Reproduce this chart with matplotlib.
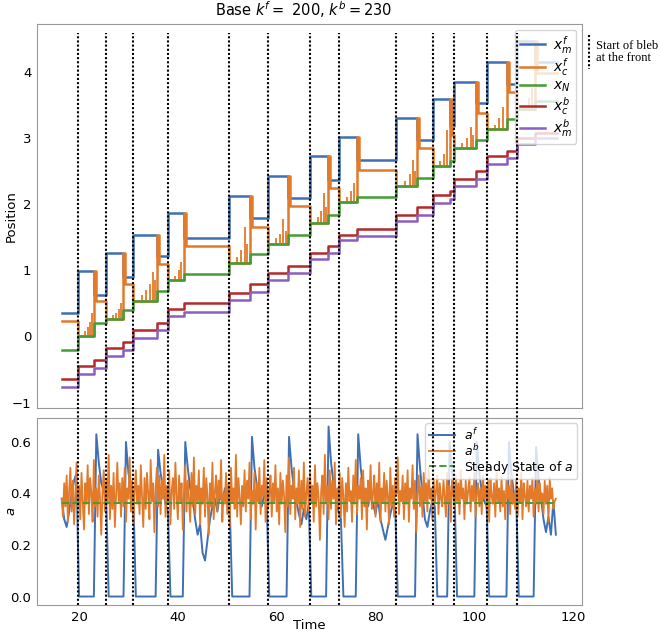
import numpy as np
import matplotlib.pyplot as plt
from matplotlib.lines import Line2D

# bleb timing: start = dotted line, end = retraction of the front
bleb_start = [19.7, 25.4, 30.9, 38.0, 50.3, 58.2, 66.8, 72.6, 84.1, 91.7, 95.9, 102.5, 108.6]
bleb_end = [23.1, 28.9, 35.7, 41.2, 54.6, 62.3, 70.3, 76.3, 88.4, 95.0, 100.3, 106.6, 112.3]
t_first, t_last = 16.5, 116.8

# positions: level before first bleb, level during each bleb, level after each bleb
xmf_0 = 0.36
xmf_bleb = [0.99, 1.26, 1.54, 1.86, 2.12, 2.42, 2.72, 3.02, 3.30, 3.59, 3.85, 4.14, 4.46]
xmf_rest = [0.63, 0.90, 1.21, 1.49, 1.79, 2.09, 2.37, 2.66, 2.97, 3.18, 3.53, 3.82, 4.15]

xcf_0 = 0.23
xcf_rest = [0.53, 0.79, 1.09, 1.36, 1.66, 1.97, 2.24, 2.52, 2.85, 3.05, 3.38, 3.70, 3.98]

xN_0 = -0.20
xN_bleb = [0.00, 0.27, 0.54, 0.85, 1.11, 1.40, 1.72, 2.03, 2.27, 2.57, 2.85, 3.13, 3.43]
xN_rest = [0.20, 0.40, 0.68, 0.94, 1.24, 1.54, 1.84, 2.10, 2.40, 2.65, 2.97, 3.28, 3.55]

xcb_0 = -0.64
xcb_bleb = [-0.45, -0.17, 0.10, 0.41, 0.65, 0.96, 1.26, 1.54, 1.84, 2.14, 2.38, 2.72, 3.00]
xcb_rest = [-0.36, -0.09, 0.21, 0.51, 0.79, 1.07, 1.36, 1.63, 1.96, 2.19, 2.50, 2.80, 3.08]

xmb_0 = -0.76
xmb_bleb = [-0.57, -0.29, -0.02, 0.31, 0.55, 0.86, 1.17, 1.46, 1.74, 2.02, 2.27, 2.60, 2.90]
xmb_rest = [-0.47, -0.20, 0.10, 0.37, 0.67, 0.96, 1.26, 1.52, 1.84, 2.08, 2.38, 2.70, 3.00]

# spikes of x_c^f while the front is blebbing (time, top)
spike_t = [21.3, 21.9, 22.3, 22.7, 26.8, 27.5, 28.0, 28.4, 32.8, 33.6, 34.3, 34.9, 35.3,
           39.5, 40.2, 40.7, 52.0, 52.8, 53.5, 54.0, 59.8, 60.6, 61.3, 61.8,
           68.3, 69.0, 69.6, 70.0, 74.2, 75.0, 75.7, 86.0, 86.9, 87.6, 88.0,
           93.0, 93.8, 94.4, 97.6, 98.5, 99.3, 99.8, 104.2, 105.0, 105.8,
           110.2, 111.0, 111.7]
spike_top = [0.08, 0.14, 0.22, 0.36, 0.33, 0.36, 0.42, 0.50, 0.62, 0.70, 0.80, 0.97, 0.85,
             0.92, 1.00, 1.12, 1.20, 1.30, 1.65, 1.40, 1.48, 1.55, 1.77, 1.60,
             1.80, 1.90, 2.17, 1.95, 2.10, 2.20, 2.32, 2.35, 2.45, 2.67, 2.50,
             2.65, 2.75, 3.12, 2.92, 3.00, 3.17, 3.05, 3.20, 3.30, 3.46,
             3.50, 3.60, 3.75]

# a^f read every 0.5 time units from t = 16.5
a_f = [0.38, 0.30, 0.27, 0.33, 0.40, 0.45, 0.48,
       0, 0, 0, 0, 0, 0, 0,
       0.63, 0.52, 0.44, 0.41, 0.38,
       0, 0, 0, 0, 0, 0, 0,
       0.60, 0.48, 0.42, 0.38,
       0, 0, 0, 0, 0, 0, 0, 0, 0,
       0.57, 0.48, 0.42, 0.36, 0.33,
       0, 0, 0, 0, 0, 0,
       0.60, 0.50, 0.42, 0.38, 0.30, 0.24, 0.28, 0.17, 0.14, 0.22, 0.30, 0.35, 0.38, 0.33,
       0.40, 0.36, 0.42, 0.38, 0.35,
       0, 0, 0, 0, 0, 0, 0, 0,
       0.62, 0.50, 0.43, 0.38, 0.35, 0.40, 0.36,
       0, 0, 0, 0, 0, 0, 0, 0,
       0.62, 0.50, 0.42, 0.37, 0.32, 0.28, 0.34, 0.30, 0.36,
       0, 0, 0, 0, 0, 0, 0,
       0.66, 0.52, 0.44, 0.38, 0.33, 0.30,
       0, 0, 0, 0, 0, 0,
       0.63, 0.50, 0.42, 0.38, 0.35, 0.40, 0.36, 0.32, 0.38, 0.30, 0.26, 0.22, 0.27, 0.32,
       0.36, 0.34,
       0, 0, 0, 0, 0, 0, 0, 0,
       0.63, 0.50, 0.40, 0.30, 0.27, 0.33, 0.37, 0.35,
       0, 0, 0, 0, 0,
       0.60, 0.48, 0.40,
       0, 0, 0, 0, 0, 0, 0, 0,
       0.60, 0.48, 0.41, 0.37, 0.35,
       0, 0, 0, 0, 0, 0, 0, 0,
       0.60, 0.48, 0.40, 0.36,
       0, 0, 0, 0, 0, 0, 0,
       0.58, 0.46, 0.38, 0.30, 0.25, 0.31, 0.24, 0.37, 0.24]

# a^b read every 0.25 time units from t = 16.5
a_b = [0.38, 0.31, 0.44, 0.35, 0.47, 0.29, 0.41, 0.50, 0.33, 0.45,
       0.28, 0.39, 0.52, 0.34, 0.43, 0.30, 0.48, 0.37, 0.26, 0.44,
       0.36, 0.51, 0.32, 0.46, 0.40, 0.29, 0.53, 0.35, 0.42, 0.31,
       0.47, 0.38, 0.24, 0.41, 0.49, 0.33, 0.45, 0.36, 0.55, 0.30,
       0.43, 0.34, 0.48, 0.27, 0.40, 0.52, 0.37, 0.44, 0.31, 0.46,
       0.35, 0.50, 0.29, 0.42, 0.38, 0.54, 0.33, 0.45, 0.28, 0.41,
       0.49, 0.36, 0.43, 0.32, 0.51, 0.39, 0.27, 0.46, 0.34, 0.48,
       0.40, 0.30, 0.53, 0.37, 0.44, 0.25, 0.42, 0.50, 0.35, 0.47,
       0.32, 0.45, 0.38, 0.55, 0.31, 0.43, 0.36, 0.49, 0.28, 0.41,
       0.46, 0.34, 0.52, 0.39, 0.30, 0.47, 0.37, 0.44, 0.26, 0.40,
       0.51, 0.33, 0.45, 0.38, 0.29, 0.48, 0.35, 0.54, 0.32, 0.43,
       0.37, 0.49, 0.28, 0.42, 0.36, 0.50, 0.31, 0.46, 0.39, 0.24,
       0.44, 0.35, 0.52, 0.30, 0.41, 0.47, 0.33, 0.45, 0.38, 0.53,
       0.29, 0.40, 0.36, 0.48, 0.32, 0.44, 0.27, 0.50, 0.37, 0.42,
       0.34, 0.55, 0.31, 0.46, 0.39, 0.28, 0.43, 0.35, 0.49, 0.33,
       0.45, 0.38, 0.52, 0.30, 0.41, 0.36, 0.48, 0.26, 0.44, 0.37,
       0.50, 0.32, 0.43, 0.39, 0.53, 0.29, 0.46, 0.34, 0.40, 0.47,
       0.31, 0.44, 0.37, 0.51, 0.33, 0.42, 0.28, 0.48, 0.36, 0.45,
       0.39, 0.25, 0.47, 0.35, 0.54, 0.32, 0.43, 0.38, 0.50, 0.30,
       0.42, 0.36, 0.49, 0.27, 0.45, 0.34, 0.52, 0.31, 0.40, 0.46,
       0.33, 0.48, 0.37, 0.43, 0.29, 0.51, 0.35, 0.44, 0.38, 0.22,
       0.41, 0.47, 0.32, 0.55, 0.36, 0.43, 0.30, 0.49, 0.34, 0.45,
       0.38, 0.52, 0.28, 0.42, 0.35, 0.48, 0.31, 0.46, 0.39, 0.27,
       0.44, 0.33, 0.50, 0.37, 0.41, 0.29, 0.47, 0.36, 0.53, 0.32,
       0.43, 0.38, 0.46, 0.30, 0.49, 0.35, 0.42, 0.26, 0.45, 0.37,
       0.51, 0.34, 0.40, 0.47, 0.31, 0.44, 0.36, 0.52, 0.29, 0.42,
       0.37, 0.48, 0.33, 0.45, 0.39, 0.28, 0.50, 0.35, 0.43, 0.31,
       0.46, 0.40, 0.54, 0.32, 0.41, 0.37, 0.47, 0.30, 0.44, 0.36,
       0.49, 0.29, 0.42, 0.38, 0.51, 0.34, 0.45, 0.25, 0.40, 0.47,
       0.35, 0.43, 0.31, 0.48, 0.37, 0.44, 0.33, 0.50, 0.38, 0.42,
       0.30, 0.46, 0.36, 0.41, 0.47, 0.32, 0.44, 0.38, 0.35, 0.45,
       0.39, 0.31, 0.48, 0.36, 0.43, 0.29, 0.46, 0.40, 0.34, 0.47,
       0.37, 0.44, 0.32, 0.49, 0.38, 0.42, 0.30, 0.45, 0.36, 0.41,
       0.46, 0.33, 0.43, 0.37, 0.48, 0.31, 0.40, 0.44, 0.35, 0.42,
       0.32, 0.47, 0.38, 0.43, 0.34, 0.45, 0.29, 0.46, 0.39, 0.36,
       0.44, 0.31, 0.48, 0.37, 0.42, 0.33, 0.46, 0.35, 0.41, 0.30,
       0.45, 0.38, 0.43, 0.32, 0.47, 0.36, 0.40, 0.34, 0.46, 0.31,
       0.42, 0.37, 0.48, 0.30, 0.44, 0.39, 0.35, 0.45, 0.33, 0.43,
       0.38, 0.46, 0.31, 0.42, 0.36, 0.47, 0.33, 0.44, 0.37, 0.40,
       0.32, 0.45, 0.36, 0.43, 0.29, 0.46, 0.38, 0.42, 0.34, 0.37,
       0.38]
a_steady = 0.365

C_BLUE, C_ORANGE, C_GREEN, C_RED, C_PURPLE = '#3f6fb5', '#e27a2a', '#449c37', '#b22a2a', '#8b5fbf'


def steps(before, during, after):
    t, y = [t_first], [before]
    for s, e, d, a in zip(bleb_start, bleb_end, during, after):
        t += [s, e]
        y += [d, a]
    t.append(t_last)
    y.append(after[-1])
    return t, y


def cortex_front():
    # drops to the nucleus during a bleb, then catches up with the membrane
    t, y = [t_first], [xcf_0]
    for s, e, n, m, a in zip(bleb_start, bleb_end, xN_bleb, xmf_bleb, xcf_rest):
        t += [s, e, e + 0.4]
        y += [n, m, a]
    t.append(t_last)
    y.append(xcf_rest[-1])
    return t, y


plt.rcParams['font.size'] = 9.5

fig = plt.figure(figsize=(6.6, 6.33), dpi=100)
ax1 = fig.add_axes([0.0561, 0.3555, 0.8258, 0.6066])
ax2 = fig.add_axes([0.0561, 0.0442, 0.8258, 0.2954], sharex=ax1)

lw = 1.8
t, y = steps(xmf_0, xmf_bleb, xmf_rest)
ax1.plot(t, y, drawstyle='steps-post', color=C_BLUE, lw=lw, label='$x_m^f$')
t, y = cortex_front()
ax1.plot(t, y, drawstyle='steps-post', color=C_ORANGE, lw=lw, label='$x_c^f$')
# spikes start from the nucleus level of the bleb they belong to
spike_base = [xN_bleb[np.searchsorted(bleb_start, s) - 1] for s in spike_t]
ax1.vlines(spike_t, spike_base, spike_top, color=C_ORANGE, lw=1.3)
t, y = steps(xN_0, xN_bleb, xN_rest)
ax1.plot(t, y, drawstyle='steps-post', color=C_GREEN, lw=lw, label='$x_N$')
t, y = steps(xcb_0, xcb_bleb, xcb_rest)
ax1.plot(t, y, drawstyle='steps-post', color=C_RED, lw=lw, label='$x_c^b$')
t, y = steps(xmb_0, xmb_bleb, xmb_rest)
ax1.plot(t, y, drawstyle='steps-post', color=C_PURPLE, lw=lw, label='$x_m^b$')

ax1.set_ylim(-1.08, 4.72)
ax1.set_ylabel('Position')
ax1.set_title('Base $k^f = $ 200, $k^b = 230$', fontsize=10.5, x=0.49)
ax1.legend(loc='upper right', fontsize=10, labelspacing=0.05, handlelength=1.8,
           handletextpad=0.6, borderpad=0.3, borderaxespad=0.4)
plt.setp(ax1.get_xticklabels(), visible=False)

ta_f = t_first + 0.5 * np.arange(len(a_f))
ta_b = t_first + 0.25 * np.arange(len(a_b))
ax2.plot(ta_f, a_f, color=C_BLUE, lw=1.4, label='$a^f$')
ax2.plot(ta_b, a_b, color=C_ORANGE, lw=1.3, label='$a^b$')
ax2.plot([ta_b[0], ta_b[-1]], [a_steady, a_steady], '--', color=C_GREEN, lw=1.4,
         label='Steady State of $a$')
ax2.set_xlim(11.5, 121.8)
ax2.set_ylabel('$a$')
ax2.set_xlabel('Time')
ax2.set_yticks([0.0, 0.2, 0.4, 0.6])
ax2.legend(loc='upper right', fontsize=9, labelspacing=0.0, handlelength=2.1,
           handletextpad=0.7, borderpad=0.3, borderaxespad=0.4)

for ax in (ax1, ax2):
    ax.tick_params(length=0, pad=4)
    for sp in ax.spines.values():
        sp.set_color('#999999')
    ax.yaxis.set_label_coords(-0.035, 0.5)
ax2.xaxis.set_label_coords(0.5, -0.075)

# bleb markers run across both panels
for s in bleb_start:
    ax2.axvline(s, ymin=0, ymax=3.06, color='black', ls=(0, (1, 1)), lw=1.5,
                clip_on=False, zorder=6)

# side legend for the dotted lines
fig.add_artist(Line2D([589 / 660, 589 / 660], [1 - 35 / 633, 1 - 69 / 633],
                      color='black', ls=(0, (1, 1)), lw=1.5))
fig.text(596 / 660, 1 - 40 / 633, 'Start of bleb\nat the front', va='top', ha='left',
         family='Liberation Serif', fontsize=9, linespacing=1.05)

fig.savefig('out.png', dpi=100)
